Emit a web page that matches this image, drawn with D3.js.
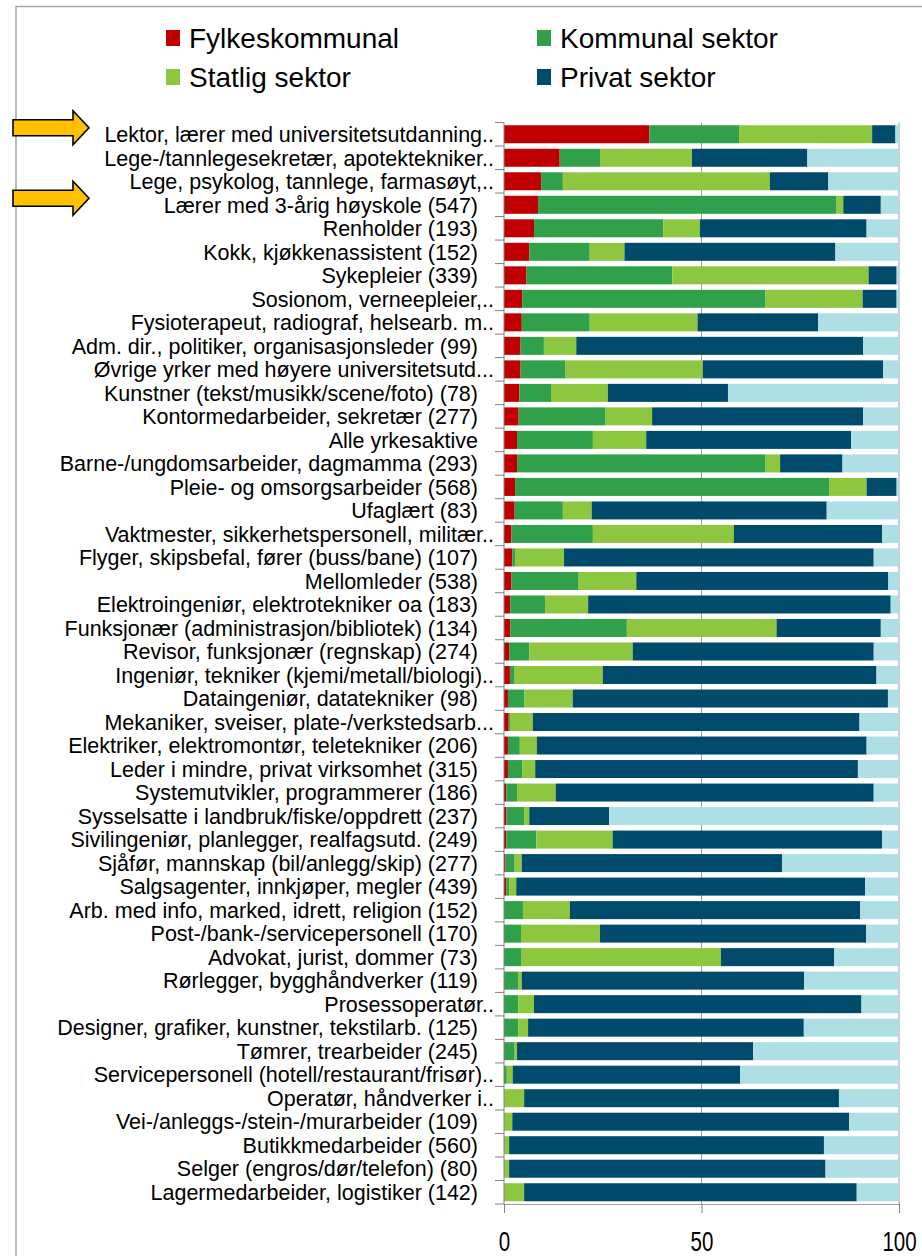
<!DOCTYPE html>
<html>
<head>
<meta charset="utf-8">
<script src="https://cdn.jsdelivr.net/npm/d3@7"></script>
<style>
  body { margin: 0; background: #fff; }
  svg { display: block; font-family: "Liberation Sans", Arial, sans-serif; }
</style>
</head>
<body>
<script>
// Yrker, andel sysselsatte per sektor (prosent)
var categories = [
    "Lektor, lærer med universitetsutdanning..",
    "Lege-/tannlegesekretær, apotektekniker..",
    "Lege, psykolog, tannlege, farmasøyt,..",
    "Lærer med 3-årig høyskole (547)",
    "Renholder (193)",
    "Kokk, kjøkkenassistent (152)",
    "Sykepleier (339)",
    "Sosionom, verneepleier,..",
    "Fysioterapeut, radiograf, helsearb. m..",
    "Adm. dir., politiker, organisasjonsleder (99)",
    "Øvrige yrker med høyere universitetsutd...",
    "Kunstner (tekst/musikk/scene/foto) (78)",
    "Kontormedarbeider, sekretær (277)",
    "Alle yrkesaktive",
    "Barne-/ungdomsarbeider, dagmamma (293)",
    "Pleie- og omsorgsarbeider (568)",
    "Ufaglært (83)",
    "Vaktmester, sikkerhetspersonell, militær..",
    "Flyger, skipsbefal, fører (buss/bane) (107)",
    "Mellomleder (538)",
    "Elektroingeniør, elektrotekniker oa (183)",
    "Funksjonær (administrasjon/bibliotek) (134)",
    "Revisor, funksjonær (regnskap) (274)",
    "Ingeniør, tekniker (kjemi/metall/biologi)..",
    "Dataingeniør, datatekniker (98)",
    "Mekaniker, sveiser, plate-/verkstedsarb...",
    "Elektriker, elektromontør, teletekniker (206)",
    "Leder i mindre, privat virksomhet (315)",
    "Systemutvikler, programmerer (186)",
    "Sysselsatte i landbruk/fiske/oppdrett (237)",
    "Sivilingeniør, planlegger, realfagsutd. (249)",
    "Sjåfør, mannskap (bil/anlegg/skip) (277)",
    "Salgsagenter, innkjøper, megler (439)",
    "Arb. med info, marked, idrett, religion (152)",
    "Post-/bank-/servicepersonell (170)",
    "Advokat, jurist, dommer (73)",
    "Rørlegger, bygghåndverker (119)",
    "Prosessoperatør..",
    "Designer, grafiker, kunstner, tekstilarb. (125)",
    "Tømrer, trearbeider (245)",
    "Servicepersonell (hotell/restaurant/frisør)..",
    "Operatør, håndverker i..",
    "Vei-/anleggs-/stein-/murarbeider (109)",
    "Butikkmedarbeider (560)",
    "Selger (engros/dør/telefon) (80)",
    "Lagermedarbeider, logistiker (142)"
];

var fylkeskommunal = [36.8, 14.1, 9.4, 8.6, 7.6, 6.4, 5.7, 4.6, 4.5, 4.2, 4.2, 3.9, 3.7, 3.3, 3.3, 2.8,
    2.7, 1.9, 2.1, 1.9, 1.6, 1.6, 1.3, 1.5, 1.0, 1.2, 1.0, 1.0, 0.6, 0.6, 0.6, 0.4,
    0.6, 0, 0, 0, 0, 0, 0, 0, 0, 0, 0, 0, 0, 0];
var kommunal = [22.7, 10.2, 5.5, 75.6, 32.7, 15.3, 36.9, 61.5, 17.2, 5.9, 11.4, 8.0, 22.0, 19.2, 62.8, 79.5,
    12.2, 20.6, 0.7, 17.0, 8.8, 29.5, 5.1, 1.2, 4.1, 0.3, 3.0, 3.6, 2.7, 4.5, 7.6, 2.3,
    0.7, 4.8, 4.3, 4.3, 3.7, 3.6, 3.6, 2.7, 0.7, 0, 0, 0, 0, 0];
var statlig = [33.7, 23.3, 52.4, 1.7, 9.3, 8.8, 49.7, 24.7, 27.3, 8.2, 34.7, 14.4, 11.8, 13.5, 3.8, 9.5,
    7.3, 35.7, 12.4, 14.6, 10.9, 37.9, 26.2, 22.3, 12.3, 5.8, 4.3, 3.3, 9.8, 1.3, 19.3, 1.8,
    1.8, 11.9, 20.0, 50.6, 0.8, 4.0, 2.5, 0.6, 1.5, 5.1, 2.1, 1.3, 1.3, 5.1];
var privat = [5.9, 29.2, 14.8, 9.5, 42.2, 53.4, 7.1, 8.6, 30.5, 72.6, 45.7, 30.4, 53.4, 51.9, 15.8, 7.6,
    59.5, 37.5, 78.4, 63.8, 76.6, 26.4, 61.0, 69.3, 79.8, 82.7, 83.5, 81.7, 80.5, 20.2, 68.2, 65.9,
    88.3, 73.5, 67.4, 28.7, 71.5, 82.9, 69.8, 59.8, 57.6, 79.7, 85.3, 79.7, 80.1, 84.2];
var annet = [0.9, 23.2, 17.9, 4.6, 8.2, 16.1, 0.6, 0.6, 20.5, 9.1, 4.0, 43.3, 9.1, 12.1, 14.3, 0.6,
    18.3, 4.3, 6.4, 2.7, 2.1, 4.6, 6.4, 5.7, 2.8, 10.0, 8.2, 10.4, 6.4, 73.4, 4.3, 29.6,
    8.6, 9.8, 8.3, 16.4, 24.0, 9.5, 24.1, 36.9, 40.2, 15.2, 12.6, 19.0, 18.6, 10.7];

var seriesNames = ["Fylkeskommunal", "Kommunal sektor", "Statlig sektor", "Privat sektor", "Annet"];
var seriesColors = ["#c00000", "#30a04a", "#8dc63f", "#004b6c", "#aedfe5"];
var xTicks = [0, 50, 100];
var markedRows = ["Lektor, lærer med universitetsutdanning..", "Lærer med 3-årig høyskole (547)"];

var width = 922, height = 1256;

var svg = d3.select("body").append("svg")
    .attr("width", width)
    .attr("height", height);

// frame
svg.append("path")
    .attr("d", "M16," + height + "V6.5H" + width)
    .attr("fill", "none")
    .attr("stroke", "#a6a6a6")
    .attr("stroke-width", 1.5);

var rows = categories.map(function (c, i) {
    return {
        name: c,
        "Fylkeskommunal": fylkeskommunal[i],
        "Kommunal sektor": kommunal[i],
        "Statlig sektor": statlig[i],
        "Privat sektor": privat[i],
        "Annet": annet[i]
    };
});

var x = d3.scaleLinear().domain([0, 100]).range([504, 899]);
var y = d3.scaleBand().domain(categories).range([122.5, 1204])
    .paddingInner(0.234).paddingOuter(0.117);

var stacked = d3.stack().keys(seriesNames)(rows);

// gridlines
svg.append("g")
    .selectAll("line")
    .data(xTicks.slice(1))
    .enter().append("line")
    .attr("x1", function (d) { return x(d); })
    .attr("x2", function (d) { return x(d); })
    .attr("y1", 122.5)
    .attr("y2", 1204)
    .attr("stroke", "#a0a0a0")
    .attr("stroke-width", 1);

// bars
svg.append("g")
    .selectAll("g")
    .data(stacked)
    .enter().append("g")
    .attr("fill", function (d, i) { return seriesColors[i]; })
    .selectAll("rect")
    .data(function (d) { return d; })
    .enter().append("rect")
    .attr("x", function (d) { return x(d[0]); })
    .attr("y", function (d) { return y(d.data.name); })
    .attr("width", function (d) { return Math.max(0, x(d[1]) - x(d[0])); })
    .attr("height", y.bandwidth());

// x axis
var xAxis = svg.append("g")
    .attr("transform", "translate(0,1204)")
    .call(d3.axisBottom(x).tickValues(xTicks).tickSize(9).tickPadding(19).tickSizeOuter(0));
xAxis.select(".domain").attr("stroke", "#a0a0a0");
xAxis.selectAll(".tick line").attr("stroke", "#808080");
xAxis.selectAll("text")
    .attr("fill", "#000")
    .attr("transform", "scale(0.76,1)")
    .style("font-size", "27px")
    .style("font-family", "'Liberation Sans', Arial, sans-serif");

// y axis line + ticks at band boundaries
var yAxis = svg.append("g");
yAxis.append("line")
    .attr("x1", x(0)).attr("x2", x(0))
    .attr("y1", 122.5).attr("y2", 1204)
    .attr("stroke", "#808080");
yAxis.selectAll(".yt")
    .data(categories.concat([null]))
    .enter().append("line")
    .attr("class", "yt")
    .attr("x1", x(0) - 9).attr("x2", x(0))
    .attr("y1", function (d, i) { return 122.5 + i * y.step(); })
    .attr("y2", function (d, i) { return 122.5 + i * y.step(); })
    .attr("stroke", "#808080");

// category labels
svg.append("g")
    .selectAll("text")
    .data(categories)
    .enter().append("text")
    .attr("x", function (d) { return /\.\.$/.test(d) ? 494 : 478; })
    .attr("y", function (d) { return y(d) + y.bandwidth() / 2; })
    .attr("dy", "0.36em")
    .attr("text-anchor", "end")
    .style("font-size", "21.5px")
    .attr("fill", "#000")
    .text(function (d) { return d; });

// arrows
var arrowPath = "M-76,-8H-16V-17L0,0L-16,17V8H-76Z";
svg.append("g")
    .selectAll("path")
    .data(markedRows)
    .enter().append("path")
    .attr("d", arrowPath)
    .attr("transform", function (d) {
        return "translate(89," + (y(d) + y.bandwidth() / 2 - 6.5) + ")";
    })
    .attr("fill", "#ffc000")
    .attr("stroke", "#000")
    .attr("stroke-width", 1.6);

// legend
var legendPos = [[166, 38], [537, 38], [166, 77], [537, 77]];
var legend = svg.append("g")
    .selectAll("g")
    .data(seriesNames.slice(0, 4))
    .enter().append("g")
    .attr("transform", function (d, i) {
        return "translate(" + legendPos[i][0] + "," + legendPos[i][1] + ")";
    });
legend.append("rect")
    .attr("x", 0).attr("y", -8)
    .attr("width", 14).attr("height", 16)
    .attr("fill", function (d, i) { return seriesColors[i]; });
legend.append("text")
    .attr("x", 23)
    .attr("dy", "0.36em")
    .style("font-size", "28px")
    .attr("fill", "#000")
    .text(function (d) { return d; });
</script>
</body>
</html>
